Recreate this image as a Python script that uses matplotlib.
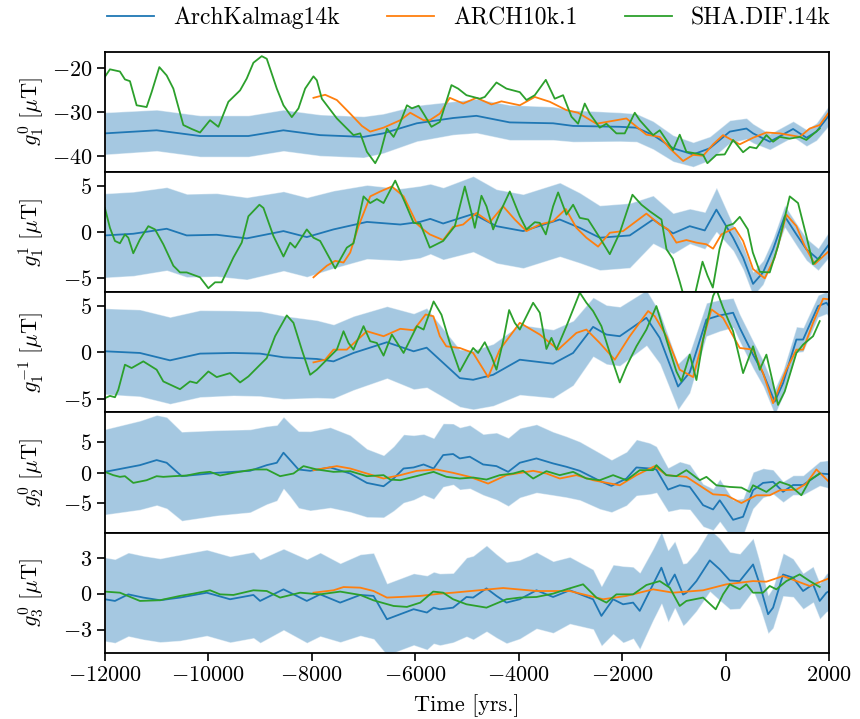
import matplotlib
matplotlib.use("Agg")
import matplotlib.pyplot as plt
import numpy as np

plt.rcParams.update({
    "font.family": "serif",
    "font.serif": ["cmr10"],
    "mathtext.fontset": "cm",
    "axes.formatter.use_mathtext": True,
    "font.size": 16,
    "axes.linewidth": 1.3,
    "xtick.major.size": 5.5,
    "ytick.major.size": 5.5,
    "xtick.major.width": 1.2,
    "ytick.major.width": 1.2,
})

models = ["ArchKalmag14k", "ARCH10k.1", "SHA.DIF.14k"]
ylabels = [r"$g_1^0\ [\mu\mathrm{T}]$", r"$g_1^1\ [\mu\mathrm{T}]$",
           r"$g_1^{-1}\ [\mu\mathrm{T}]$", r"$g_2^0\ [\mu\mathrm{T}]$",
           r"$g_3^0\ [\mu\mathrm{T}]$"]

# ---- g_1^0 ----
akm_t_g10 = [-12000, -11000, -10160, -9226, -8550, -7840, -7000, -6620, -5970, -5268,
             -4817, -4173, -3335, -2948, -2046, -1724, -1402, -1015, -628, -306,
             81, 403, 532, 854, 1305, 1563, 1756, 2000]
akm_m_g10 = [-34.9, -34.2, -35.5, -35.5, -34.2, -35.3, -35.7, -34.9, -32.6, -31.4,
             -30.9, -32.4, -32.6, -33.2, -33.4, -33.6, -35.3, -38.3, -39.7, -38.3,
             -34.5, -33.8, -34.9, -36.8, -33.9, -35.9, -34.5, -30.8]
akm_s_g10 = [4.8, 4.7, 4.7, 4.7, 4.7, 4.7, 4.7, 4.5, 4.1, 3.8,
             3.9, 4.0, 3.8, 3.6, 3.3, 3.2, 3.2, 3.0, 2.8, 2.7,
             2.6, 2.4, 2.2, 1.8, 1.8, 1.9, 2.0, 2.3]
arch_t_g10 = [-7968, -7742, -7516, -7258, -7032, -6871, -6613, -6290, -6097, -5839,
              -5719, -5525, -5332, -5074, -4817, -4527, -4334, -3979, -3689, -3399,
              -3077, -2852, -2498, -2304, -1917, -1531, -1273, -1080, -822, -628,
              -435, -242, -49, 273, 531, 789, 1047, 1240, 1433, 1626, 1820, 1980]
arch_v_g10 = [-26.8, -26.1, -27.3, -30.4, -33.2, -34.5, -33.6, -31.9, -30.2, -31.9,
              -31.9, -30.4, -26.8, -28.1, -26.8, -28.3, -27.6, -28.5, -26.6, -27.7,
              -29.6, -30.2, -32.7, -32.3, -31.5, -35.2, -35.7, -38.3, -41.2, -39.8,
              -40.0, -37.4, -35.3, -37.4, -35.9, -34.7, -34.9, -35.3, -35.7, -33.8,
              -33.0, -30.4]
sha_t_g10 = [-12000, -11903, -11710, -11613, -11516, -11387, -11194, -11097, -10948, -10806,
             -10677, -10484, -10322, -10161, -9968, -9806, -9613, -9387, -9258, -9129,
             -8968, -8871, -8677, -8548, -8387, -8258, -8129, -7968, -7903, -7806,
             -7516, -7194, -7064, -6935, -6774, -6677, -6548, -6419, -6322, -6161,
             -6064, -5935, -5839, -5687, -5525, -5300, -5171, -5010, -4752, -4656,
             -4430, -4237, -3979, -3850, -3689, -3476, -3303, -3142, -2980, -2852,
             -2723, -2626, -2433, -2304, -2111, -1950, -1756, -1660, -1402, -1273,
             -1015, -887, -758, -564, -435, -352, -178, -17, 145, 338,
             467, 595, 789, 918, 1047, 1240, 1433, 1562, 1820]
sha_v_g10 = [-22.0, -20.3, -20.8, -22.6, -23.0, -28.5, -28.9, -25.5, -19.8, -21.7,
             -24.7, -33.0, -33.9, -34.7, -31.9, -33.4, -27.7, -25.1, -22.4, -18.8,
             -17.3, -17.9, -24.7, -28.5, -31.2, -29.2, -24.7, -21.9, -22.8, -27.0,
             -31.5, -35.3, -34.9, -39.1, -41.7, -39.5, -33.8, -35.7, -33.4, -28.5,
             -29.2, -28.6, -30.4, -33.4, -32.3, -23.9, -24.7, -26.2, -27.0, -26.6,
             -23.3, -24.7, -25.5, -27.3, -26.2, -22.7, -27.0, -26.2, -31.1, -32.7,
             -28.1, -30.4, -33.6, -32.7, -34.9, -34.9, -30.2, -31.9, -35.3, -34.2,
             -38.7, -35.2, -39.1, -39.5, -39.8, -41.7, -39.8, -39.7, -36.4, -39.2,
             -38.0, -38.3, -35.3, -36.8, -35.7, -36.1, -35.7, -36.4, -33.8]

# ---- g_1^1 ----
akm_t_g11 = [-12000, -11452, -10806, -10419, -9839, -9258, -8548, -8097, -7581, -6935,
             -6290, -5912, -5710, -5461, -4881, -4430, -3915, -3206, -2819, -2433,
             -1853, -1402, -1015, -693, -403, -178, 145, 338, 531, 724,
             918, 1143, 1369, 1562, 1788, 2000]
akm_m_g11 = [-0.36, -0.18, 0.36, -0.36, -0.29, -0.68, 0.11, -0.54, 0.29, 1.1,
             0.82, 1.1, 1.43, 0.93, 1.96, 0.64, 0.11, 1.36, 0.46, -0.61,
             -0.36, 1.36, -0.14, 0.64, 0.18, 2.43, -0.61, -2.75, -5.6, -4.36,
             -1.86, 1.71, -0.25, -1.86, -2.93, -1.32]
akm_s_g11 = [4.55, 4.55, 4.5, 4.5, 4.5, 4.45, 4.3, 4.3, 4.2, 4.0,
             3.9, 3.9, 3.8, 3.9, 4.1, 4.0, 4.0, 4.0, 3.8, 3.5,
             3.5, 2.6, 2.2, 1.9, 2.0, 2.4, 1.4, 1.3, 1.3, 1.3,
             1.2, 1.2, 1.2, 1.2, 1.2, 1.4]
arch_t_g11 = [-7968, -7710, -7548, -7387, -7258, -7097, -6871, -6677, -6452, -6226,
              -5968, -5850, -5719, -5461, -5268, -5074, -4817, -4559, -4301, -4076,
              -3850, -3592, -3335, -3090, -2884, -2691, -2465, -2239, -1982, -1531,
              -1273, -1112, -951, -758, -564, -371, -242, -81, 177, 338,
              531, 757, 950, 1175, 1369, 1530, 1723, 2000]
arch_v_g11 = [-4.89, -3.64, -3.11, -3.29, -2.21, 0.64, 3.86, 4.39, 4.93, 3.86,
              0.9, 0.3, -0.25, -0.86, 0.57, 0.82, 2.07, 1.07, 2.79, 1.36,
              0.11, 0.82, 1.18, 2.5, 0.46, -0.61, -1.57, -0.07, 0.11, 2.0,
              0.82, 0.29, -1.14, -0.86, -1.14, -1.32, -1.79, -0.25, 0.46, -0.96,
              -4.0, -5.0, -2.75, 1.89, 0.64, -1.5, -3.46, -2.04]
sha_t_g11 = [-12000, -11903, -11806, -11710, -11613, -11548, -11452, -11323, -11161, -11032,
             -10871, -10677, -10548, -10419, -10161, -10000, -9871, -9742, -9516, -9355,
             -9226, -9013, -8935, -8742, -8548, -8419, -8323, -8097, -7968, -7839,
             -7548, -7323, -7194, -7000, -6871, -6742, -6613, -6387, -6194, -6032,
             -5903, -5719, -5461, -5235, -5042, -4913, -4849, -4720, -4623, -4494,
             -4366, -4172, -3979, -3850, -3689, -3592, -3476, -3335, -3238, -3077,
             -2948, -2819, -2658, -2433, -2239, -2046, -1801, -1627, -1466, -1240,
             -1143, -1020, -885, -790, -690, -595, -446, -350, -247, -118,
             11, 150, 274, 430, 526, 662, 853, 1014, 1240, 1401,
             1562, 1691, 1820]
sha_v_g11 = [2.6, 0.46, -0.96, -1.21, -0.25, -0.61, -2.29, -0.79, 0.64, 0.29,
             -1.32, -3.64, -4.36, -4.36, -4.89, -6.07, -5.43, -5.43, -2.75, -1.14,
             1.71, 2.96, 2.61, -0.43, -2.64, -1.14, -1.68, 0.29, -0.61, -0.96,
             -3.93, -1.68, -1.21, 3.86, 3.14, 3.57, 3.14, 5.57, 3.14, 1.0,
             0.9, -1.68, -0.96, 0.64, 4.93, 2.07, 0.46, 3.93, 2.79, 0.29,
             2.07, 4.39, 1.71, 0.29, 1.07, 1.0, -0.25, 2.79, 4.29, 1.89,
             2.96, 1.54, 1.36, -0.61, -2.39, -0.07, 4.04, 2.96, 2.25, 1.36,
             -1.85, -2.9, -5.4, -7.3, -8.0, -6.8, -3.2, -4.7, -6.0, -1.85,
             0.64, 0.9, 1.65, 0.29, -2.2, -4.3, -4.36, -1.5, 3.86, 3.14,
             -0.43, -3.46, -2.75]

# ---- g_1^-1 ----
akm_t_h11 = [-12000, -11323, -10742, -10161, -9516, -9000, -8548, -7903, -7581, -7194,
             -6548, -6032, -5780, -5139, -4881, -4494, -3979, -3335, -2948, -2562,
             -2304, -2046, -1531, -1273, -919, -693, -371, -113, 145, 273,
             531, 724, 950, 1111, 1369, 1498, 1788, 1949, 2000]
akm_m_h11 = [0.11, -0.07, -0.87, -0.14, -0.07, -0.14, -0.54, -0.72, -0.98, -0.07,
             1.09, 0.11, 0.5, -2.79, -2.97, -2.43, -0.8, -1.23, -0.07, 2.75,
             1.92, 1.74, 3.73, 1.56, -3.7, -2.17, 3.55, 3.99, 4.28, 2.65,
             -0.25, -2.25, -5.33, -3.33, 1.38, 1.38, 5.0, 5.36, 5.0]
akm_s_h11 = [4.65, 4.7, 4.7, 4.7, 4.6, 4.6, 4.5, 4.2, 4.0, 4.0,
             3.9, 4.1, 4.3, 3.1, 3.2, 3.35, 3.8, 3.7, 3.5, 3.2,
             3.2, 3.2, 3.0, 2.8, 2.5, 2.2, 1.8, 1.7, 1.6, 1.5,
             1.5, 1.4, 1.4, 1.4, 1.4, 1.3, 1.2, 1.2, 1.2]
arch_t_h11 = [-7968, -7742, -7581, -7323, -6935, -6613, -6290, -6032, -5800, -5650,
              -5525, -5400, -5139, -4881, -4591, -4366, -3979, -3592, -3238, -2884,
              -2691, -2433, -2143, -1853, -1498, -1370, -1144, -887, -628, -435,
              -274, -49, 273, 531, 724, 918, 1175, 1369, 1498, 1691,
              1885, 2000]
arch_v_h11 = [-1.09, -0.8, 0.29, 0.29, 2.28, 1.74, 2.54, 2.39, 4.09, 3.9,
              1.74, 0.65, 0.47, -0.07, -2.68, 0.29, 3.19, 1.92, 0.29, 2.1,
              2.46, 1.01, -0.8, 1.74, 4.46, 3.91, 1.74, -1.88, -2.68, 1.38,
              4.64, 3.73, 0.47, 0.29, -2.25, -5.5, -1.88, 0.29, 0.29, 3.19,
              5.8, 5.73]
sha_t_h11 = [-12000, -11903, -11806, -11742, -11613, -11484, -11258, -11000, -10871, -10548,
             -10355, -10226, -10000, -9839, -9581, -9387, -9226, -9000, -8871, -8710,
             -8484, -8355, -8194, -8032, -7903, -7645, -7516, -7387, -7290, -7194,
             -7000, -6871, -6742, -6613, -6452, -6226, -5968, -5839, -5645, -5493,
             -5332, -5139, -4978, -4881, -4785, -4656, -4527, -4430, -4301, -4185,
             -4076, -3979, -3721, -3592, -3464, -3367, -3270, -3077, -2819, -2691,
             -2562, -2401, -2239, -2046, -1917, -1724, -1531, -1338, -1144, -951,
             -854, -693, -564, -435, -242, -178, -49, 145, 338, 531,
             660, 789, 1014, 1143, 1369, 1498, 1691, 1820]
sha_v_h11 = [-4.96, -4.71, -4.86, -4.06, -1.34, -1.7, -0.98, -1.88, -3.15, -3.99,
             -3.15, -3.33, -2.07, -2.68, -2.25, -3.26, -2.61, -1.34, -0.62, 1.74,
             3.99, 3.19, 0.29, -2.43, -1.88, -0.43, 0.29, 2.28, 1.01, 0.29,
             2.83, 1.2, 1.01, -0.36, 1.92, -0.07, 2.83, 2.46, 5.5, 4.06,
             1.01, -2.07, -0.43, 0.47, -0.07, 1.09, -0.43, -1.88, 1.2, 4.57,
             3.19, 2.46, 5.36, 4.28, 0.36, 1.56, 0.29, 2.83, 6.45, 5.36,
             4.46, 2.83, -0.07, -3.26, -1.52, 0.65, 2.46, 5.0, 1.38, -2.07,
             -3.15, -0.25, -3.0, 1.38, 6.09, 6.8, 4.82, 2.28, -2.25, 0.65,
             -1.88, -0.25, -5.69, -4.24, -0.07, 0.83, 1.74, 3.37]

# ---- g_2^0 ----
akm_t_g20 = [-12000, -11323, -11000, -10806, -10516, -9839, -9194, -8871, -8677, -8548,
             -8419, -8258, -8032, -7645, -7258, -6935, -6613, -6419, -6226, -6032,
             -5839, -5645, -5461, -5268, -5139, -4946, -4688, -4430, -4204, -3979,
             -3657, -3335, -3077, -2819, -2433, -2207, -1917, -1724, -1466, -1338,
             -1112, -887, -693, -435, -242, -113, 145, 338, 531, 724,
             918, 1111, 1305, 1498, 1820, 2000]
akm_m_g20 = [0.16, 1.26, 2.09, 1.65, -0.55, 0.0, 0.33, 1.26, 1.65, 3.3,
             2.09, 0.55, 0.33, 0.88, -0.11, -1.65, -2.2, -0.93, 0.71, 0.88,
             1.37, 0.71, 2.91, 3.08, 2.36, 2.64, 1.37, 1.1, 0.16, 1.65,
             2.36, 1.54, 0.99, 0.33, -1.32, -2.14, -0.93, 0.88, 0.71, 0.55,
             -2.75, -2.04, -2.31, -5.3, -6.0, -4.5, -7.7, -7.2, -2.86, -1.65,
             -1.48, -3.1, -2.0, -2.0, -0.11, -0.22]
akm_s_g20 = [7.0, 7.3, 7.4, 7.5, 7.3, 7.0, 6.8, 6.4, 6.2, 5.9,
             6.0, 6.3, 6.5, 6.6, 6.3, 5.6, 5.1, 5.3, 5.6, 5.3,
             5.0, 5.0, 5.2, 5.0, 5.1, 5.2, 5.0, 5.5, 5.6, 5.7,
             5.6, 5.2, 5.0, 4.8, 4.6, 4.3, 4.4, 4.6, 4.2, 3.8,
             3.6, 3.9, 3.7, 3.5, 3.4, 3.5, 3.3, 3.0, 3.0, 2.4,
             2.0, 1.7, 1.6, 1.6, 2.0, 2.3]
arch_t_g20 = [-7968, -7516, -7258, -6613, -6290, -5968, -5590, -5268, -4946, -4591,
              -4237, -3721, -3464, -3206, -2884, -2562, -2046, -1724, -1370, -1144,
              -758, -242, 16, 306, 595, 853, 1047, 1369, 1562, 1756,
              2000]
arch_v_g20 = [0.44, 1.1, 0.71, -0.93, -0.38, 0.33, 0.55, 0.0, -0.66, -1.76,
              -0.38, 0.33, -0.11, -0.93, -0.38, -1.21, -2.04, -0.38, 1.1, -0.38,
              -0.66, -3.52, -3.68, -4.95, -3.68, -3.68, -2.86, -2.75, -1.76, 0.55,
              -1.48]
sha_t_g20 = [-12000, -11839, -11710, -11613, -11452, -11194, -11000, -10871, -10677, -10419,
             -10161, -9968, -9774, -9516, -9129, -8871, -8613, -8355, -8161, -7903,
             -7581, -7258, -6935, -6613, -6484, -6290, -6032, -5774, -5645, -5396,
             -5139, -4881, -4623, -4366, -4108, -3915, -3721, -3464, -3206, -2948,
             -2691, -2433, -2175, -1917, -1660, -1402, -1338, -1144, -951, -758,
             -500, -371, -178, 81, 306, 467, 531, 789, 1047, 1240,
             1465, 1627, 1820]
sha_v_g20 = [0.16, -0.38, -0.66, -0.55, -1.65, -1.21, -0.55, -0.66, -0.55, -0.44,
             0.0, 0.16, -0.44, 0.0, 0.55, 0.55, -0.55, -0.11, 1.1, 0.55,
             0.16, 0.27, -0.55, -0.38, -1.1, -1.21, -0.66, -0.11, 0.16, -0.66,
             -0.93, -0.77, -1.1, -0.38, -0.11, 0.33, -0.93, 0.27, -0.38, 0.16,
             -0.93, -1.21, -0.38, -1.21, 0.44, 0.44, 1.26, -0.38, -0.55, 0.44,
             -1.21, -0.66, -2.04, -2.31, -2.42, -3.13, -2.04, -3.13, -1.48, -2.04,
             -3.68, -1.21, -0.11]

# ---- g_3^0 ----
akm_t_g30 = [-12000, -11806, -11548, -11258, -10935, -10548, -10032, -9581, -9129, -9000,
             -8548, -8097, -7839, -7452, -7064, -6806, -6548, -6290, -6032, -5774,
             -5645, -5525, -5268, -5010, -4881, -4623, -4430, -4237, -3979, -3657,
             -3335, -3013, -2562, -2401, -2175, -1982, -1788, -1660, -1402, -1241,
             -1112, -983, -822, -758, -564, -306, -113, 81, 273, 531,
             660, 821, 918, 1111, 1305, 1498, 1691, 1820, 1949, 2000]
akm_m_g30 = [-0.47, -0.61, -0.06, -0.33, -0.55, -0.33, 0.08, -0.47, -0.11, -0.61,
             0.36, -0.61, -0.06, -0.75, -0.11, -0.19, -2.14, -1.72, -1.3, -1.58,
             -1.17, -1.31, -1.17, -0.28, -0.33, 0.44, -0.19, -0.75, -0.47, 0.28,
             -0.28, 0.28, -0.47, -1.86, -0.47, -0.89, -0.75, -1.44, 0.78, 2.17,
             0.64, 1.6, -0.08, 0.08, 1.05, 2.78, 2.03, 1.1, 1.05, 2.44,
             0.78, -1.72, -1.17, 1.6, 1.33, 0.22, 0.78, -0.61, 0.08, 0.2]
akm_s_g30 = [3.5, 3.5, 3.5, 3.5, 3.5, 3.6, 3.6, 3.6, 3.6, 3.5,
             3.4, 3.5, 3.5, 3.3, 3.4, 3.6, 3.0, 3.0, 3.0, 3.1,
             3.0, 3.0, 2.9, 3.3, 3.5, 3.6, 3.5, 3.4, 3.3, 3.2,
             3.0, 2.8, 2.5, 2.5, 2.9, 3.2, 3.0, 3.2, 3.0, 3.0,
             3.0, 2.8, 2.6, 2.5, 2.5, 2.6, 2.6, 2.4, 2.3, 2.2,
             1.9, 1.6, 1.7, 1.8, 1.6, 1.5, 1.5, 1.5, 1.6, 1.6]
arch_t_g30 = [-7968, -7581, -7387, -7064, -6806, -6548, -6290, -5903, -5516, -5268,
              -4301, -3657, -3013, -2369, -1917, -1402, -1015, -435, 16, 531,
              789, 1111, 1626, 2000]
arch_v_g30 = [0.08, 0.28, 0.55, 0.5, 0.22, -0.33, -0.28, -0.19, 0.0, 0.08,
              0.47, 0.22, 0.22, -0.47, -0.19, 0.36, 0.08, 0.28, 0.78, 1.05,
              1.0, 1.47, 0.64, 1.28]
sha_t_g30 = [-12000, -11710, -11323, -10935, -10548, -10290, -9968, -9774, -9516, -9129,
             -8871, -8613, -8226, -7839, -7452, -7064, -6806, -6419, -6161, -5903,
             -5654, -5461, -5268, -5010, -4623, -4237, -3979, -3657, -3335, -3077,
             -2755, -2498, -2304, -2111, -1788, -1531, -1273, -1080, -887, -758,
             -435, -191, -49, 81, 273, 402, 531, 724, 853, 982,
             1175, 1433, 1627, 1820]
sha_v_g30 = [0.17, 0.08, -0.61, -0.55, -0.19, 0.0, 0.28, -0.06, -0.11, 0.28,
             0.22, -0.33, 0.08, -0.06, 0.17, -0.11, -0.56, -1.03, -1.11, -0.75,
             0.17, 0.08, -0.47, -0.89, -1.17, -0.47, -0.33, -0.28, 0.0, 0.36,
             0.78, -0.33, -0.75, -0.06, -0.06, 0.72, 1.05, 0.5, -1.03, -0.61,
             -0.33, -1.31, -0.06, 0.78, 0.36, 0.78, 0.08, 0.08, 0.64, 0.36,
             1.05, 1.61, 1.05, 0.56]

panels = [
    (akm_t_g10, akm_m_g10, akm_s_g10, arch_t_g10, arch_v_g10, sha_t_g10, sha_v_g10),
    (akm_t_g11, akm_m_g11, akm_s_g11, arch_t_g11, arch_v_g11, sha_t_g11, sha_v_g11),
    (akm_t_h11, akm_m_h11, akm_s_h11, arch_t_h11, arch_v_h11, sha_t_h11, sha_v_h11),
    (akm_t_g20, akm_m_g20, akm_s_g20, arch_t_g20, arch_v_g20, sha_t_g20, sha_v_g20),
    (akm_t_g30, akm_m_g30, akm_s_g30, arch_t_g30, arch_v_g30, sha_t_g30, sha_v_g30),
]
ylims = [(-43.7, -16.3), (-6.5, 6.5), (-6.5, 6.5), (-9.8, 9.9), (-4.95, 5.1)]
yticks = [[-40, -30, -20], [-5, 0, 5], [-5, 0, 5], [-5, 0, 5], [-3, 0, 3]]

fig, axs = plt.subplots(5, 1, sharex=True, figsize=(8.6, 7.19), dpi=100)
fig.subplots_adjust(left=0.122, right=0.964, top=0.928, bottom=0.092, hspace=0)

for ax, (tk, mk, sk, ta, va, ts, vs), lab, yl, yt in zip(axs, panels, ylabels, ylims, yticks):
    tk, mk, sk = np.array(tk), np.array(mk), np.array(sk)
    ax.fill_between(tk, mk - sk, mk + sk, facecolor="C0", alpha=0.4,
                    edgecolor=(1, 1, 1, 0.5), lw=0.8)
    l1, = ax.plot(tk, mk, color="C0", lw=1.3, solid_joinstyle="round")
    l2, = ax.plot(ta, va, color="C1", lw=1.3, solid_joinstyle="round")
    l3, = ax.plot(ts, vs, color="C2", lw=1.3, solid_joinstyle="round")
    ax.set_ylim(*yl)
    ax.set_yticks(yt)
    ax.set_ylabel(lab)

for ax in axs[:-1]:
    ax.tick_params(axis="x", bottom=False)

axs[-1].set_xlim(-12000, 2000)
axs[-1].set_xticks([-12000, -10000, -8000, -6000, -4000, -2000, 0, 2000])
axs[-1].set_xlabel("Time [yrs.]", labelpad=7)
fig.align_ylabels(axs)

fig.legend([l1, l2, l3], models, loc="center", ncol=3, frameon=False,
           fontsize=17, bbox_to_anchor=(0.545, 0.975))

fig.savefig("out.png", dpi=100)
